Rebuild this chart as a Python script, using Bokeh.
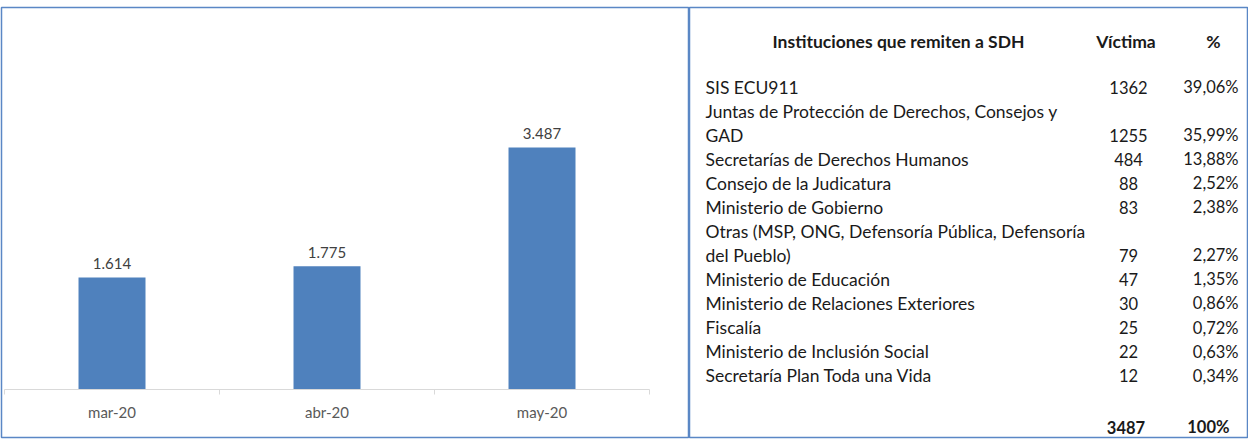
from bokeh.plotting import figure
from bokeh.layouts import row
from bokeh.models import Range1d, FixedTicker, LinearAxis, ColumnDataSource
from bokeh.core.properties import value
from bokeh.embed import file_html
from bokeh.resources import INLINE

# ---------------- data ----------------
months = ["mar-20", "abr-20", "may-20"]
cases = [1614, 1775, 3487]

table_header = ["Instituciones que remiten a SDH", "Víctima", "%"]
institutions = [
    "SIS ECU911",
    "Juntas de Protección de Derechos, Consejos y\nGAD",
    "Secretarías de Derechos Humanos",
    "Consejo de la Judicatura",
    "Ministerio de Gobierno",
    "Otras (MSP, ONG, Defensoría Pública, Defensoría\ndel Pueblo)",
    "Ministerio de Educación",
    "Ministerio de Relaciones Exteriores",
    "Fiscalía",
    "Ministerio de Inclusión Social",
    "Secretaría Plan Toda una Vida",
]
victims = [1362, 1255, 484, 88, 83, 79, 47, 30, 25, 22, 12]
percents = [39.06, 35.99, 13.88, 2.52, 2.38, 2.27, 1.35, 0.86, 0.72, 0.63, 0.34]
total_victims = 3487
total_percent = 100

# ---------------- styles ----------------
BAR = "#4f81bd"
FRAME = "#5a87c5"
AXIS = "#d9d9d9"
FONT = "Lato"
TXT = "#1a1a1a"

# ---------------- left: bar chart ----------------
left = figure(width=689, height=439,
              x_range=Range1d(-0.514, 2.686), y_range=Range1d(-692, 5504),
              x_axis_type=None, y_axis_type=None,
              min_border_left=1, min_border_top=7, min_border_bottom=2, min_border_right=0,
              outline_line_color=FRAME, outline_line_width=1.5,
              output_backend="svg", toolbar_location=None)

idx = list(range(len(months)))
src = ColumnDataSource(dict(
    x=idx, top=cases,
    lab=[f"{v:,}".replace(",", ".") for v in cases],
))
left.vbar(x="x", top="top", bottom=0, width=0.3116, source=src,
          fill_color=BAR, line_color=None)
left.text(x="x", y="top", text="lab", source=src,
          text_align="center", text_baseline="bottom", y_offset=-8,
          text_font=value(FONT), text_font_size="15px", text_color="#404040")

xaxis = LinearAxis(
    fixed_location=0, bounds=(-0.5, len(months) - 0.5),
    ticker=FixedTicker(ticks=idx, minor_ticks=[i - 0.5 for i in range(len(months) + 1)]),
    major_label_overrides={i: m for i, m in enumerate(months)},
    axis_line_color=AXIS, axis_line_width=1.2,
    major_tick_line_color=None, major_tick_out=0, major_tick_in=0,
    minor_tick_line_color=AXIS, minor_tick_out=5, minor_tick_in=0,
    major_label_text_font=FONT, major_label_text_font_size="15px",
    major_label_text_color="#595959", major_label_standoff=9,
)
left.add_layout(xaxis, "below")

# ---------------- right: table ----------------
right = figure(width=559, height=439,
               x_range=Range1d(689, 1247), y_range=Range1d(437, 7),
               x_axis_type=None, y_axis_type=None,
               min_border_left=0, min_border_right=1, min_border_top=7, min_border_bottom=2,
               outline_line_color=FRAME, outline_line_width=1.5,
               output_backend="svg", toolbar_location=None)

right.text(x=[898, 1125.5, 1213], y=[41, 41, 41], text=table_header,
           text_align="center", text_baseline="middle",
           text_font=value(FONT), text_font_style="bold", text_font_size="17.5px",
           text_color=TXT)

line_y0, line_h = 86.5, 24.05
lx, ly, lt, num_y = [], [], [], []
k = 0
for name in institutions:
    for part in name.split("\n"):
        lx.append(705)
        ly.append(line_y0 + k * line_h)
        lt.append(part)
        k += 1
    num_y.append(line_y0 + (k - 1) * line_h)

right.text(x=lx, y=ly, text=lt, text_align="left", text_baseline="middle",
           text_font=value(FONT), text_font_size="17.5px", text_color=TXT)
right.text(x=[1128] * len(victims), y=num_y, text=[str(v) for v in victims],
           text_align="center", text_baseline="middle",
           text_font=value(FONT), text_font_size="16.5px", text_color=TXT)
right.text(x=[1238] * len(percents), y=num_y,
           text=[f"{p:.2f}%".replace(".", ",") for p in percents],
           text_align="right", text_baseline="middle",
           text_font=value(FONT), text_font_size="16.5px", text_color=TXT)
right.text(x=[1125.5], y=[426.5], text=[str(total_victims)],
           text_align="center", text_baseline="middle",
           text_font=value(FONT), text_font_style="bold", text_font_size="16.5px",
           text_color=TXT)
right.text(x=[1229], y=[426.5], text=[f"{total_percent}%"],
           text_align="right", text_baseline="middle",
           text_font=value(FONT), text_font_style="bold", text_font_size="16.5px",
           text_color=TXT)

layout = row(left, right)
open("out.html", "w").write(file_html(layout, INLINE))
